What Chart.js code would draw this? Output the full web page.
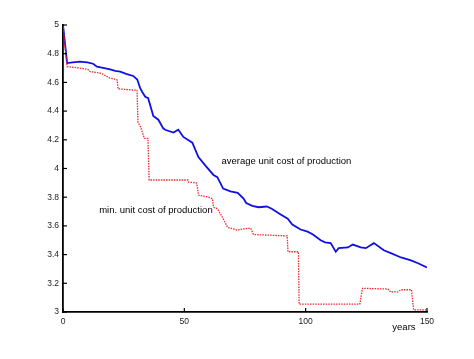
<!DOCTYPE html>
<html>
<head>
<meta charset="utf-8">
<script src="https://cdn.jsdelivr.net/npm/chart.js@4.4.1/dist/chart.umd.min.js"></script>
<style>
  html, body { margin: 0; padding: 0; background: #fff; }
  #wrap { width: 474px; height: 359px; position: relative; }
</style>
</head>
<body>
<div id="wrap"><canvas id="c" width="474" height="359"></canvas></div>
<script>
// Average unit cost of production (blue solid)
const avgYears = [0, 1.7, 4, 7, 10, 12.4, 14, 17, 19.4, 21.5, 23.6, 26, 28.9, 30.6, 31.8, 32.6, 33.9, 35.1, 36.8, 37.2, 39.3, 41.3, 42.1, 45.5, 47.5, 49.6, 53.3, 55.8, 58.7, 62, 63.6, 66, 69, 72, 74.4, 75.5, 78, 80.6, 84, 86, 89.7, 92.6, 94.5, 97.9, 100.8, 103, 106.2, 108, 110.3, 112.4, 113.6, 117.4, 119.4, 122.7, 124.8, 128.1, 132.2, 135.1, 139.3, 143.4, 146.3, 150];
const avgCost  = [5.0, 4.735, 4.74, 4.745, 4.74, 4.73, 4.71, 4.70, 4.69, 4.68, 4.675, 4.66, 4.645, 4.62, 4.56, 4.535, 4.50, 4.49, 4.39, 4.366, 4.34, 4.28, 4.27, 4.25, 4.27, 4.22, 4.18, 4.08, 4.02, 3.955, 3.94, 3.86, 3.84, 3.83, 3.79, 3.76, 3.74, 3.73, 3.735, 3.72, 3.68, 3.65, 3.61, 3.575, 3.56, 3.54, 3.50, 3.485, 3.48, 3.42, 3.445, 3.45, 3.47, 3.45, 3.445, 3.48, 3.43, 3.41, 3.38, 3.36, 3.34, 3.31];

// Minimum unit cost of production (red dotted)
const minYears = [0, 1.7, 7, 10.3, 11.2, 15.3, 16.1, 18.2, 19.4, 21, 22.3, 22.7, 30.5, 30.9, 32, 33.5, 35, 35.5, 51.5, 51.8, 55, 55.4, 55.8, 59.9, 61.6, 62, 63.6, 65.7, 67.8, 71.9, 74.5, 77.3, 78.5, 92.4, 92.7, 97, 97.3, 122.3, 123.4, 133.9, 135, 138, 139.3, 143.6, 144.5, 150];
const minCost  = [5.0, 4.71, 4.70, 4.69, 4.675, 4.665, 4.66, 4.64, 4.63, 4.625, 4.617, 4.555, 4.545, 4.32, 4.29, 4.21, 4.21, 3.92, 3.92, 3.905, 3.90, 3.87, 3.815, 3.80, 3.79, 3.73, 3.72, 3.66, 3.59, 3.57, 3.58, 3.585, 3.54, 3.53, 3.42, 3.42, 3.055, 3.055, 3.165, 3.16, 3.14, 3.14, 3.155, 3.155, 3.015, 3.015];

const xTickValues = [0, 50, 100, 150];
const yTickValues = [3, 3.2, 3.4, 3.6, 3.8, 4, 4.2, 4.4, 4.6, 4.8, 5];
const xAxisTitle = 'years';
const annotations = [
  { text: 'average unit cost of production', x: 65.3, y: 4.052 },
  { text: 'min. unit cost of production', x: 14.9, y: 3.71 }
];

const FONT = '"Liberation Sans", Arial, Helvetica, sans-serif';

const toPoints = (xs, ys) => xs.map((x, i) => ({ x: x, y: ys[i] }));

const innerTicks = {
  id: 'innerTicks',
  afterDraw(chart) {
    const ctx = chart.ctx;
    const xs = chart.scales.x, ys = chart.scales.y;
    ctx.save();
    ctx.strokeStyle = '#000';
    ctx.lineWidth = 1.2;
    const bottom = ys.getPixelForValue(3);
    const left = xs.getPixelForValue(0);
    xTickValues.forEach(v => {
      const p = xs.getPixelForValue(v);
      ctx.beginPath(); ctx.moveTo(p, bottom); ctx.lineTo(p, bottom - 4); ctx.stroke();
    });
    yTickValues.forEach(v => {
      const p = ys.getPixelForValue(v);
      ctx.beginPath(); ctx.moveTo(left, p); ctx.lineTo(left + 4, p); ctx.stroke();
    });
    ctx.fillStyle = '#000';
    ctx.font = '9.5px ' + FONT;
    ctx.textAlign = 'left';
    ctx.textBaseline = 'middle';
    annotations.forEach(a => {
      ctx.fillText(a.text, xs.getPixelForValue(a.x), ys.getPixelForValue(a.y));
    });
    ctx.textAlign = 'center';
    ctx.fillText(xAxisTitle, xs.getPixelForValue(140.5), bottom + 15);
    ctx.restore();
  }
};

new Chart(document.getElementById('c'), {
  type: 'line',
  data: {
    datasets: [
      {
        label: 'average unit cost of production',
        data: toPoints(avgYears, avgCost),
        borderColor: '#1010e0',
        borderWidth: 1.8,
        pointRadius: 0,
        tension: 0,
        fill: false,
        order: 2
      },
      {
        label: 'min. unit cost of production',
        data: toPoints(minYears, minCost),
        borderColor: 'rgba(235,30,35,0.95)',
        borderWidth: 1.3,
        borderDash: [1.5, 1.1],
        pointRadius: 0,
        tension: 0,
        fill: false,
        order: 1
      }
    ]
  },
  options: {
    responsive: false,
    animation: false,
    devicePixelRatio: 1,
    layout: { padding: { top: 25, right: 47, left: 0, bottom: 0 } },
    plugins: { legend: { display: false }, tooltip: { enabled: false } },
    scales: {
      x: {
        type: 'linear',
        min: 0, max: 150,
        afterBuildTicks(scale) { scale.ticks = xTickValues.map(v => ({ value: v })); },
        afterFit(scale) { scale.height = 47; },
        grid: { display: false, drawTicks: false },
        border: { display: true, color: '#000', width: 1.8 },
        ticks: {
          padding: 5,
          color: '#222',
          font: { family: FONT, size: 8.5 },
          maxRotation: 0
        }
      },
      y: {
        type: 'linear',
        min: 3, max: 5,
        afterBuildTicks(scale) { scale.ticks = yTickValues.map(v => ({ value: v })); },
        afterFit(scale) { scale.width = 63; },
        grid: { display: false, drawTicks: false },
        border: { display: true, color: '#000', width: 1.8 },
        ticks: {
          padding: 4,
          color: '#222',
          font: { family: FONT, size: 8.5 },
          callback: v => String(Number(v.toFixed(1)))
        }
      }
    }
  },
  plugins: [innerTicks]
});
</script>
</body>
</html>
